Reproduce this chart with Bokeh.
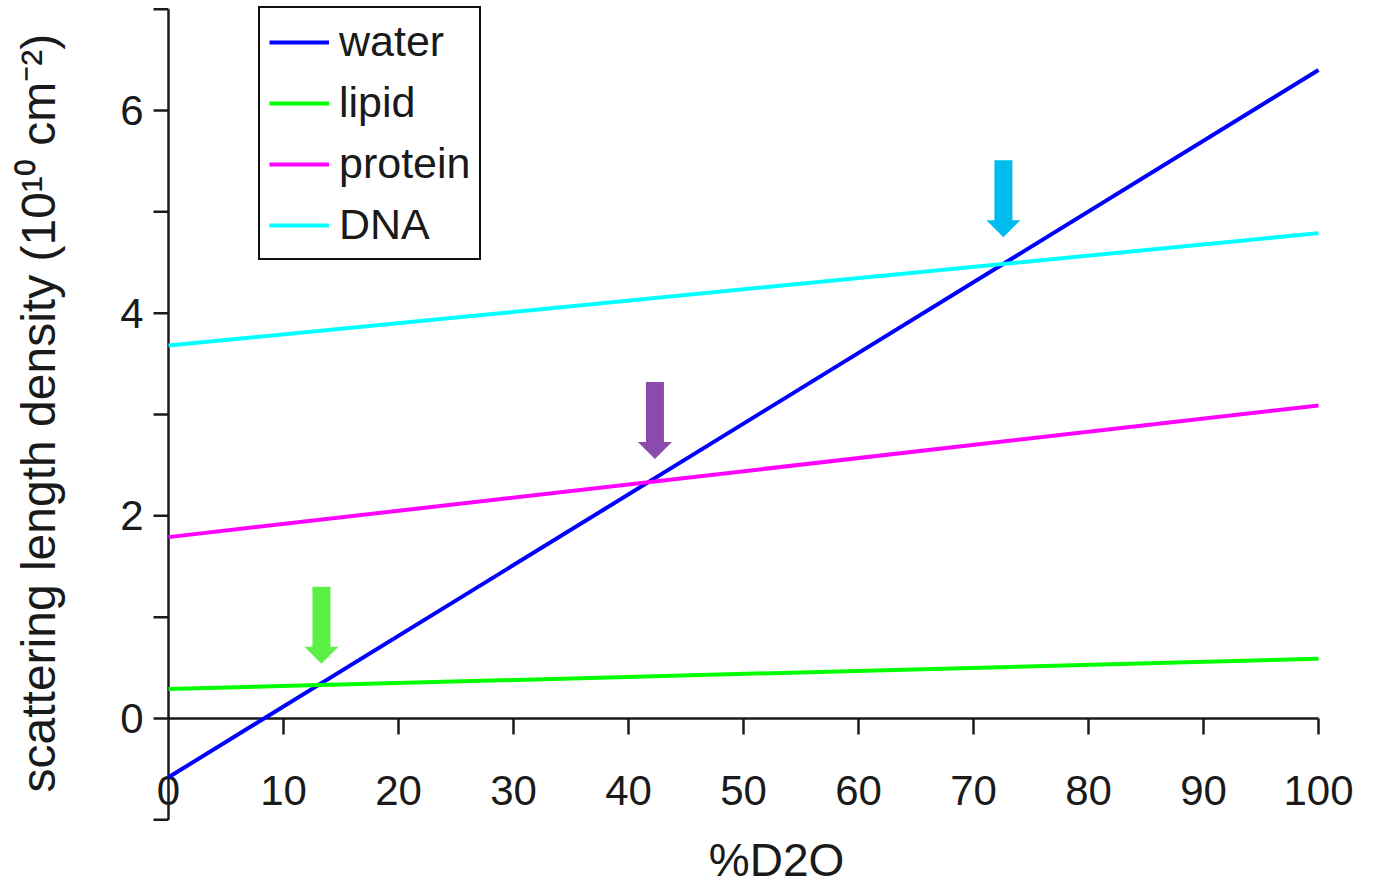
import numpy as np
from bokeh.plotting import figure
from bokeh.models import Range1d, Legend, LegendItem
from bokeh.core.properties import value
from bokeh.embed import file_html
from bokeh.resources import INLINE

# ---------------- data ----------------
d2o_pct = [0, 100]
water = [-0.58, 6.40]
lipid = [0.29, 0.59]
protein = [1.79, 3.09]
dna = [3.68, 4.79]
series_names = ["water", "lipid", "protein", "DNA"]
series_values = [water, lipid, protein, dna]
series_colors = ["#0000ff", "#00ff00", "#ff00ff", "#00ffff"]

# match-point arrows
arrow_x = [13.3, 42.3, 72.6]
arrow_tip_y = [0.54, 2.56, 4.75]
arrow_top_y = [1.30, 3.32, 5.51]
arrow_colors = ["#5cf047", "#8a4bad", "#00bcee"]

x_ticks = [0, 10, 20, 30, 40, 50, 60, 70, 80, 90, 100]
y_tick_labels = [0, 2, 4, 6]
y_ticks = [-1, 0, 1, 2, 3, 4, 5, 6, 7]
x_label = "%D2O"
y_label = "scattering length density  (10\u00b9\u2070 cm\u207b\u00b2)"

# ---------------- layout ----------------
W, H = 1376, 884
X0_PX, PX_X = 168, 11.5      # figure px of x=0, px per unit
Y0_PX, PX_Y = 718, 101.33    # figure px (from top) of y=0, px per unit


def dx(px):
    return px / PX_X


def dy(px):
    return px / PX_Y


FONT_NAME = "Liberation Sans"
FONT = value(FONT_NAME)
AX = "#1a1a1a"

p = figure(width=W, height=H,
           x_range=Range1d(-X0_PX / PX_X, (W - X0_PX) / PX_X),
           y_range=Range1d(-(H - Y0_PX) / PX_Y, Y0_PX / PX_Y),
           output_backend="svg", toolbar_location=None,
           x_axis_location=None, y_axis_location=None,
           min_border=0, outline_line_color=None)
p.grid.visible = False
p.background_fill_color = "white"
p.border_fill_color = "white"

# ---- axes drawn by hand ----
p.segment(x0=[0], y0=[min(y_ticks)], x1=[0], y1=[max(y_ticks)],
          line_color=AX, line_width=2.5)
p.segment(x0=[min(x_ticks)], y0=[0], x1=[max(x_ticks)], y1=[0],
          line_color=AX, line_width=2.5)
p.segment(x0=[0] * len(y_ticks), y0=y_ticks,
          x1=[-dx(15)] * len(y_ticks), y1=y_ticks,
          line_color=AX, line_width=2.5)
xt = x_ticks[1:]
p.segment(x0=xt, y0=[0] * len(xt), x1=xt, y1=[-dy(16)] * len(xt),
          line_color=AX, line_width=2.5)

p.text(x=x_ticks, y=[-dy(72)] * len(x_ticks), text=[str(t) for t in x_ticks],
       text_align="center", text_baseline="middle", text_font=FONT,
       text_font_size="42px", text_color=AX)
p.text(x=[-dx(25)] * len(y_tick_labels), y=y_tick_labels,
       text=[str(t) for t in y_tick_labels],
       text_align="right", text_baseline="middle", text_font=FONT,
       text_font_size="42px", text_color=AX)
p.text(x=[-dx(130)], y=[(min(y_ticks) + max(y_ticks)) / 2 + dy(8)], text=[y_label],
       angle=np.pi / 2, text_align="center", text_baseline="middle",
       text_font=FONT, text_font_size="48px", text_color=AX)
p.text(x=[dx(608)], y=[-dy(141)], text=[x_label],
       text_align="center", text_baseline="middle",
       text_font=FONT, text_font_size="46px", text_color=AX)

# ---- series ----
renderers = []
for name, vals, col in zip(series_names, series_values, series_colors):
    r = p.line(d2o_pct, vals, line_color=col, line_width=4)
    renderers.append(r)

# ---- arrows ----
SHAFT, HEAD_W, HEAD_L = 9, 17, 17
xs, ys = [], []
for ax_, tip, top in zip(arrow_x, arrow_tip_y, arrow_top_y):
    base = tip + dy(HEAD_L)
    xs.append([ax_ - dx(SHAFT), ax_ + dx(SHAFT), ax_ + dx(SHAFT), ax_ + dx(HEAD_W),
               ax_, ax_ - dx(HEAD_W), ax_ - dx(SHAFT)])
    ys.append([top, top, base, base, tip, base, base])
p.patches(xs, ys, fill_color=arrow_colors, line_color=None)

# ---- legend ----
legend = Legend(items=[LegendItem(label=n, renderers=[r])
                       for n, r in zip(series_names, renderers)],
                location=(258, 624), orientation="vertical",
                border_line_color="#111111", border_line_width=2.5,
                border_line_alpha=1.0,
                background_fill_color="white", background_fill_alpha=1,
                label_text_font=FONT_NAME, label_text_font_size="43px",
                label_text_color=AX, glyph_width=60, label_standoff=10,
                padding=9, spacing=12, margin=0)
p.add_layout(legend)

open("out.html", "w").write(file_html(p, INLINE))
